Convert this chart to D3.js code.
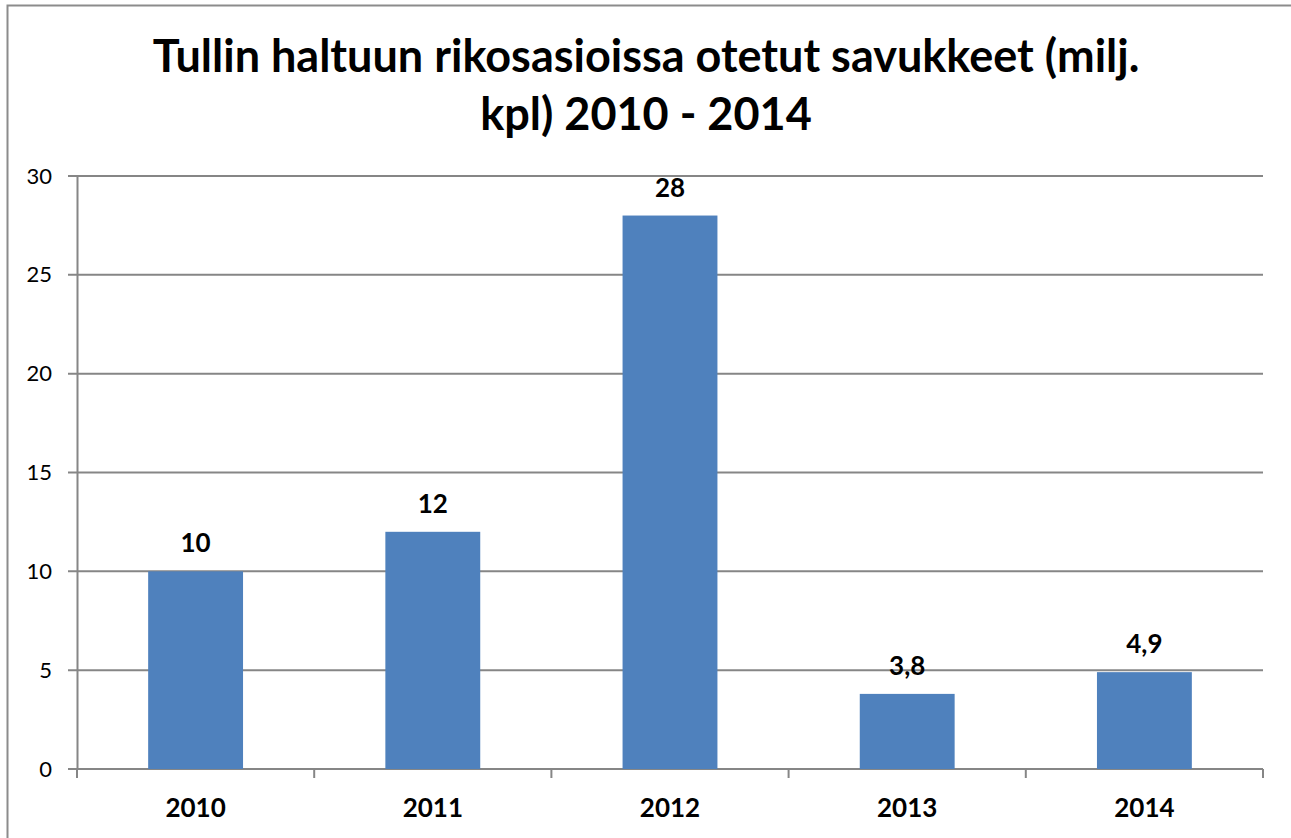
<!DOCTYPE html>
<html>
<head>
<meta charset="utf-8">
<script src="https://cdn.jsdelivr.net/npm/d3@7"></script>
<style>
  body { margin: 0; background: #fff; }
  svg { display: block; font-family: Lato, "Open Sans", sans-serif; }
</style>
</head>
<body>
<div id="chart"></div>
<script>
var years = ["2010", "2011", "2012", "2013", "2014"];
var values = [10, 12, 28, 3.8, 4.9];
var valueLabels = ["10", "12", "28", "3,8", "4,9"];
var yTicks = [0, 5, 10, 15, 20, 25, 30];
var titleLines = ["Tullin haltuun rikosasioissa otetut savukkeet (milj.", "kpl) 2010 - 2014"];

var svg = d3.select("#chart")
            .append("svg")
            .attr("width", 1291)
            .attr("height", 838);

var margin = { top: 176, right: 28, bottom: 69, left: 77 };
var width = 1291 - margin.left - margin.right;
var height = 838 - margin.top - margin.bottom;

// outer chart border (runs off the right and bottom)
svg.append("rect")
   .attr("x", 7.5)
   .attr("y", 5.5)
   .attr("width", 1400)
   .attr("height", 900)
   .attr("fill", "none")
   .attr("stroke", "#8c8c8c")
   .attr("stroke-width", 2);

svg.selectAll(".title")
   .data(titleLines)
   .enter()
   .append("text")
   .attr("class", "title")
   .attr("x", 646)
   .attr("y", (d, i) => 72 + i * 58)
   .attr("text-anchor", "middle")
   .style("font-size", "45px")
   .style("font-weight", "bold")
   .text(d => d);

var g = svg.append("g")
           .attr("transform", `translate(${margin.left},${margin.top})`);

var xScale = d3.scaleBand()
               .domain(years)
               .range([0, width])
               .paddingInner(0.6)
               .paddingOuter(0.3);

var yScale = d3.scaleLinear()
               .domain([0, 30])
               .range([height, 0]);

// gridlines
g.selectAll(".grid")
 .data(yTicks)
 .enter()
 .append("line")
 .attr("x1", -9)
 .attr("x2", width)
 .attr("y1", d => yScale(d))
 .attr("y2", d => yScale(d))
 .attr("stroke", "#868686")
 .attr("stroke-width", 2);

// y axis
var yAxis = g.append("g")
             .call(d3.axisLeft(yScale).tickValues(yTicks).tickSize(0).tickPadding(25));
yAxis.select(".domain").attr("stroke", "#868686").attr("stroke-width", 2);
yAxis.selectAll("text").style("font-size", "22px").style("font-family", "Lato, sans-serif").attr("fill", "#000");

// x axis
var xAxis = g.append("g")
             .attr("transform", `translate(0,${height})`)
             .call(d3.axisBottom(xScale).tickSize(0).tickPadding(30));
xAxis.select(".domain").remove();
xAxis.selectAll("text")
     .style("font-size", "26px")
     .style("font-weight", "bold")
     .style("font-family", "Lato, sans-serif")
     .attr("fill", "#000");

// category separator ticks
var edges = d3.range(years.length + 1).map(i => i * width / years.length);
g.selectAll(".xtick")
 .data(edges)
 .enter()
 .append("line")
 .attr("x1", d => d)
 .attr("x2", d => d)
 .attr("y1", height)
 .attr("y2", height + 9)
 .attr("stroke", "#868686")
 .attr("stroke-width", 2);

g.selectAll(".bar")
 .data(values)
 .enter()
 .append("rect")
 .attr("x", (d, i) => xScale(years[i]))
 .attr("y", d => yScale(d))
 .attr("width", xScale.bandwidth())
 .attr("height", d => height - yScale(d))
 .attr("fill", "#4f81bd");

g.selectAll(".vlabel")
 .data(values)
 .enter()
 .append("text")
 .attr("x", (d, i) => xScale(years[i]) + xScale.bandwidth() / 2)
 .attr("y", d => yScale(d) - 19)
 .attr("text-anchor", "middle")
 .style("font-size", "26px")
 .style("font-weight", "bold")
 .text((d, i) => valueLabels[i]);
</script>
</body>
</html>
